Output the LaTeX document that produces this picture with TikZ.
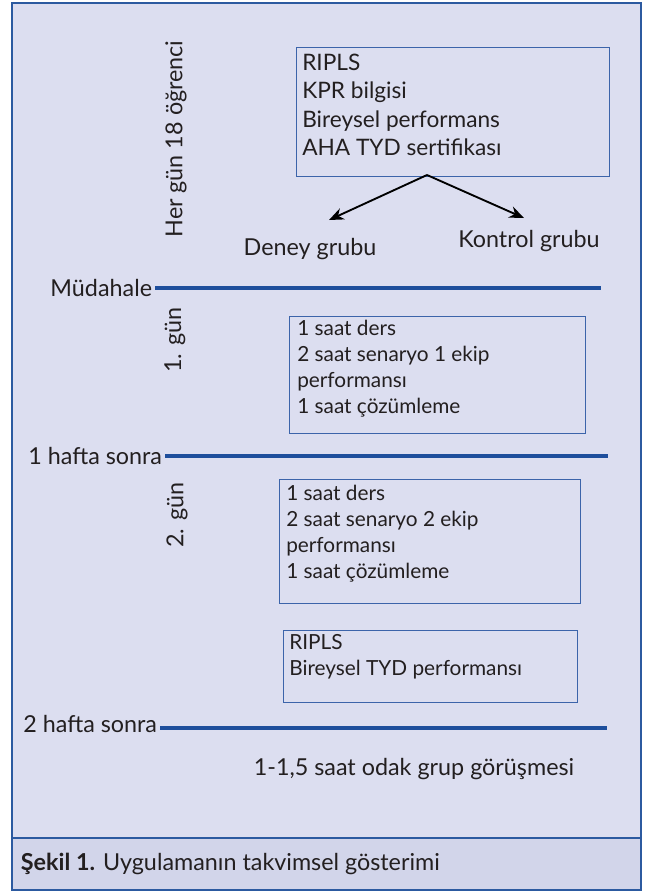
\documentclass[tikz,border=0pt]{standalone}
\usepackage{fontspec}
\setmainfont{Lato}
\usetikzlibrary{arrows.meta}
\definecolor{panelbg}{RGB}{220,222,240}
\definecolor{capbg}{RGB}{210,213,234}
\definecolor{frameblue}{RGB}{44,90,160}
\definecolor{lineblue}{RGB}{30,78,156}
\definecolor{boxblue}{RGB}{60,100,170}
\definecolor{inktext}{RGB}{35,31,32}
\tikzset{
  stagebox/.style={draw=boxblue, line width=1pt, anchor=north west, inner sep=0pt},
  bigtext/.style={text=inktext, font=\fontsize{17}{21.2}\selectfont, align=left, anchor=north west, inner sep=0pt},
  smalltext/.style={text=inktext, font=\fontsize{15.6}{19.5}\selectfont, align=left, anchor=north west, inner sep=0pt},
  sidetext/.style={text=inktext, font=\fontsize{17.5}{20}\selectfont, inner sep=2pt},
  timeline/.style={draw=lineblue, line width=2.6pt},
  splitarrow/.style={draw=black, line width=1.4pt, -{Stealth[length=11pt,width=9pt]}}
}
\begin{document}
\begin{tikzpicture}[x=0.75pt,y=0.75pt,yscale=-1,xscale=1]
        \useasboundingbox (0,0) rectangle (649,894);
        \fill [panelbg] (12,3) rectangle (641,838);
        \draw [frameblue, line width=1.1pt] (12,3) rectangle (641,838);
        \fill [capbg] (12,838) rectangle (641,890);
        \draw [frameblue, line width=1.1pt] (12,838) rectangle (641,890);
        % top block
        \node (ogrenci) [sidetext, rotate=90] at (176,139) {Her gün 18 öğrenci};
        \node (topbox) [stagebox, minimum width=234.75pt, minimum height=96.75pt] at (296,47) {};
        \node (toptext) [bigtext] at (302,54) {RIPLS\\KPR bilgisi\\Bireysel performans\\AHA TYD sertifikası};
        \coordinate (split) at (427,175);
        \coordinate (deneytip) at (329,220);
        \coordinate (kontroltip) at (524,218);
        \draw [splitarrow] (split) -- (deneytip);
        \draw [splitarrow] (split) -- (kontroltip);
        \node (deney) [sidetext] at (310,249) {Deney grubu};
        \node (kontrol) [sidetext] at (529,241) {Kontrol grubu};
        % timeline
        \node (mudahale) [sidetext, anchor=east] at (155,288) {Müdahale};
        \coordinate (mudahaleend) at (601,288);
        \draw [timeline] (mudahale.east) -- (mudahaleend);
        \node (gun1) [sidetext, rotate=90] at (175,340) {1. gün};
        \node (gun1box) [stagebox, minimum width=222pt, minimum height=87.75pt] at (289,316) {};
        \node (gun1text) [smalltext] at (297,320) {1 saat ders\\2 saat senaryo 1 ekip\\performansı\\1 saat çözümleme};
        \node (hafta1) [sidetext, anchor=east] at (165,456) {1 hafta sonra};
        \coordinate (hafta1end) at (608,456);
        \draw [timeline] (hafta1.east) -- (hafta1end);
        \node (gun2) [sidetext, rotate=90] at (177,515) {2. gün};
        \node (gun2box) [stagebox, minimum width=225.75pt, minimum height=93pt] at (279,479) {};
        \node (gun2text) [smalltext] at (286,485) {1 saat ders\\2 saat senaryo 2 ekip\\performansı\\1 saat çözümleme};
        \node (sonbox) [stagebox, minimum width=220.5pt, minimum height=54pt] at (283,630) {};
        \node (sontext) [smalltext] at (289,634) {RIPLS\\Bireysel TYD performansı};
        \node (hafta2) [sidetext, anchor=east] at (160,724) {2 hafta sonra};
        \coordinate (hafta2end) at (607,728);
        \draw [timeline] (hafta2.east |- hafta2end) -- (hafta2end);
        \node (odak) [sidetext] at (414,769) {1-1,5 saat odak grup görüşmesi};
        % caption
        \node (caption) [sidetext, anchor=west] at (18,864) {\textbf{Şekil 1.} Uygulamanın takvimsel gösterimi};
\end{tikzpicture}
\end{document}
